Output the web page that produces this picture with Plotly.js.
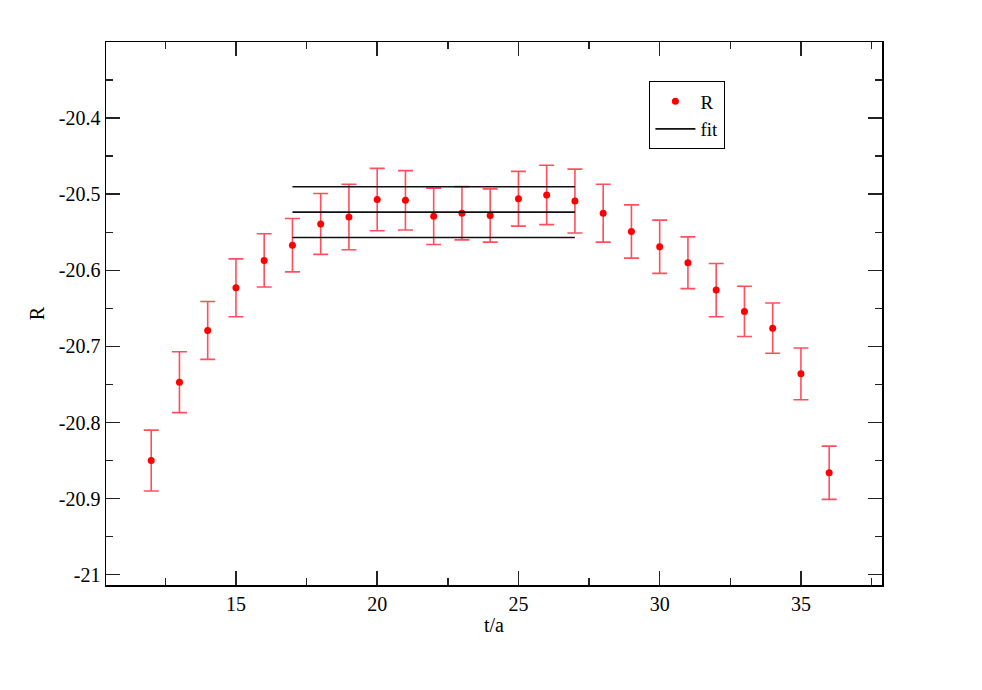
<!DOCTYPE html>
<html>
<head>
<meta charset="utf-8">
<script src="https://cdn.plot.ly/plotly-3.0.1.min.js"></script>
<style>html,body{margin:0;padding:0;background:#fff;}#chart{width:982px;height:690px;}</style>
</head>
<body>
<div id="chart"></div>
<script>
const tValues = [12,13,14,15,16,17,18,19,20,21,22,23,24,25,26,27,28,29,30,31,32,33,34,35,36];
const rValues = [-20.850,-20.747,-20.679,-20.623,-20.587,-20.567,-20.539,-20.530,-20.507,-20.508,-20.529,-20.525,-20.528,-20.506,-20.501,-20.509,-20.525,-20.549,-20.569,-20.590,-20.626,-20.654,-20.676,-20.736,-20.866];
const rErrors = [0.040,0.040,0.038,0.038,0.035,0.035,0.040,0.043,0.041,0.039,0.037,0.035,0.035,0.036,0.039,0.042,0.038,0.035,0.035,0.034,0.035,0.033,0.033,0.034,0.035];
const fitRange = [17, 27];
const fitValue = -20.5235;
const fitError = 0.0333;
const xTickVals = [15,20,25,30,35];
const xTickText = ["15","20","25","30","35"];
const yTickVals = [-21,-20.9,-20.8,-20.7,-20.6,-20.5,-20.4];
const yTickText = ["-21","-20.9","-20.8","-20.7","-20.6","-20.5","-20.4"];

const fitLevels = [fitValue + fitError, fitValue, fitValue - fitError];
const traces = [{
  x: tValues, y: rValues, type: 'scatter', mode: 'markers', name: 'R',
  marker: {color: '#ff0000', size: 7},
  error_y: {type: 'data', array: rErrors, visible: true, color: 'rgba(255,20,40,0.75)', thickness: 1.6, width: 7.5}
}];
fitLevels.forEach((v, i) => {
  traces.push({
    x: fitRange, y: [v, v], type: 'scatter', mode: 'lines', name: 'fit',
    legendgroup: 'fit', showlegend: i === 0,
    line: {color: '#111', width: 1.6}
  });
});

const font = {family: 'Liberation Serif, Times New Roman, serif', color: '#000'};
const layout = {
  width: 982, height: 690,
  margin: {l: 106, r: 100, t: 42, b: 105},
  paper_bgcolor: '#fff', plot_bgcolor: '#fff',
  font: Object.assign({size: 20}, font),
  showlegend: true,
  legend: {x: 0.70, y: 0.928, xanchor: 'left', yanchor: 'top', bgcolor: '#fff', bordercolor: '#000', borderwidth: 1.2,
           font: Object.assign({size: 19}, font), tracegroupgap: 0, itemwidth: 40},
  xaxis: {
    range: [10.4, 37.87], tickmode: 'array', tickvals: xTickVals, ticktext: xTickText,
    ticks: 'inside', ticklen: 14, tickwidth: 1.5, tickcolor: '#222',
    minor: {tickmode: 'linear', tick0: 12.5, dtick: 2.5, ticks: 'inside', ticklen: 7, tickwidth: 1.5, tickcolor: '#222'},
    showline: true, linecolor: '#000', linewidth: 1.5, mirror: 'allticks',
    showgrid: false, zeroline: false,
    tickfont: Object.assign({size: 20}, font),
    title: {text: 't/a', font: Object.assign({size: 20}, font), standoff: 4}
  },
  yaxis: {
    range: [-21.0135, -20.3], tickmode: 'array', tickvals: yTickVals, ticktext: yTickText,
    ticks: 'inside', ticklen: 14, tickwidth: 1.5, tickcolor: '#222',
    minor: {tickmode: 'linear', tick0: -20.95, dtick: 0.05, ticks: 'inside', ticklen: 7, tickwidth: 1.5, tickcolor: '#222'},
    showline: true, linecolor: '#000', linewidth: 1.5, mirror: 'allticks',
    showgrid: false, zeroline: false,
    tickfont: Object.assign({size: 20}, font),
    title: {text: 'R', font: Object.assign({size: 20}, font), standoff: 9}
  }
};
Plotly.newPlot('chart', traces, layout, {displayModeBar: false, staticPlot: true});
</script>
</body>
</html>
